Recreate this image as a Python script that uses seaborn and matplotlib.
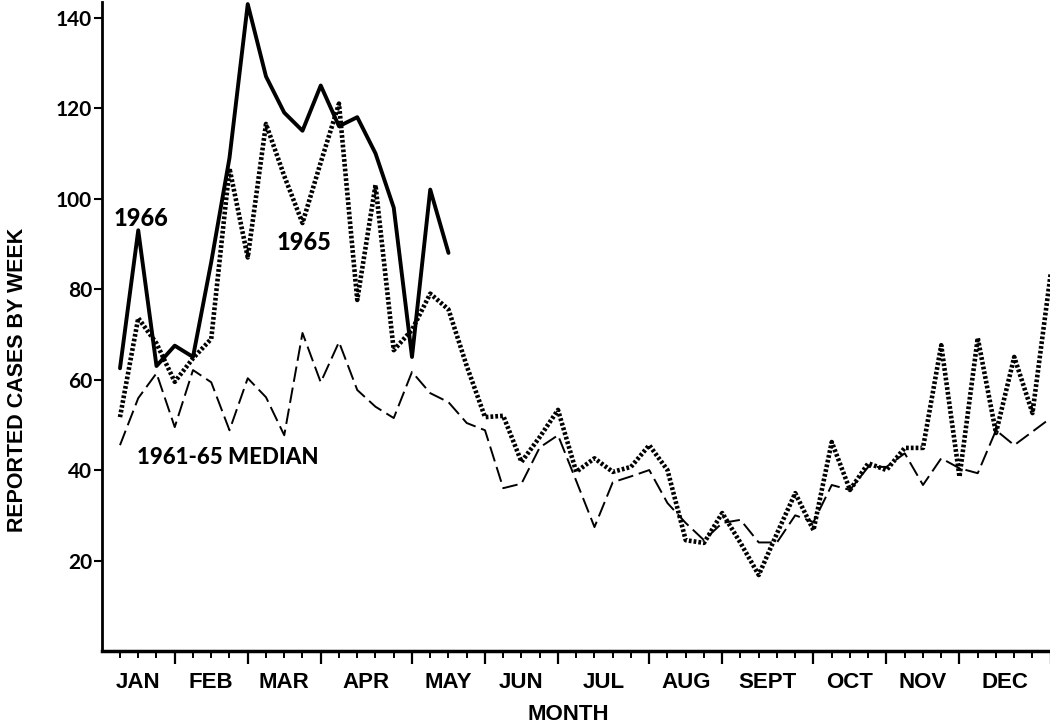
import pandas as pd
import seaborn as sns
import matplotlib.pyplot as plt

# weekly reported cases (week 1 = first week of January)
cases_1966 = [62.5, 93, 63, 67.5, 65, 86, 109, 143, 127, 119, 115, 125, 116, 118,
              110, 98, 65, 102, 88]

cases_1965 = [51.7, 73.6, 68, 59.5, 64.7, 69, 106.7, 87, 116.5, 105, 94.6, 108, 121,
              77.6, 103, 66.5, 71, 79, 75.5, 63, 51.7, 52, 41.8, 47.3, 53.3, 39.6,
              42.6, 39.6, 40.7, 45.5, 40, 24.5, 23.9, 30.5, 23.9, 16.8, 26, 34.9,
              26.7, 46.2, 35.6, 41.5, 40, 44.9, 44.9, 67.6, 38.5, 69.2, 48.2, 65,
              52.6, 83.5]

median_1961_65 = [45.5, 55.9, 61.4, 49.5, 62.1, 59.4, 48.8, 60.3, 56.1, 47.7, 70.3,
                  59.4, 68.3, 57.7, 54, 51.5, 61.7, 57, 55, 50.4, 48.8, 36, 37, 45,
                  47.7, 37.6, 27.4, 37.3, 38.6, 40, 32.7, 28.3, 24.5, 28.3, 29, 24,
                  24, 30, 28.5, 36.7, 35.6, 40.7, 40.7, 43.7, 36.7, 42.6, 40.4, 39.3,
                  48.8, 45.5, 48.5, 51.5]

months = ['JAN', 'FEB', 'MAR', 'APR', 'MAY', 'JUN', 'JUL', 'AUG', 'SEPT', 'OCT',
          'NOV', 'DEC']
month_ends = [4, 8, 12, 17, 21, 25, 30, 34, 39, 43, 47, 52]  # last week of each month

weeks = list(range(1, len(cases_1965) + 1))
df = pd.DataFrame({'week': weeks, 'y1965': cases_1965, 'median': median_1961_65})
df66 = pd.DataFrame({'week': list(range(1, len(cases_1966) + 1)), 'y1966': cases_1966})

sns.set_theme(style='ticks')
plt.rcParams['font.family'] = ['Liberation Sans Narrow', 'Liberation Sans', 'DejaVu Sans']
plt.rcParams['text.color'] = 'black'

fig = plt.figure(figsize=(10.5, 7.27), dpi=100)
ax = fig.add_axes([0.0969, 0.1045, 0.9038, 0.893])

sns.lineplot(data=df, x='week', y='median', ax=ax, color='black', lw=1.4,
             linestyle=(0, (8, 3)), clip_on=False)
sns.lineplot(data=df, x='week', y='y1965', ax=ax, color='black', lw=3.3,
             linestyle=(0, (0.6, 0.45)), clip_on=False)
sns.lineplot(data=df66, x='week', y='y1966', ax=ax, color='black', lw=2.8,
             clip_on=False)

ax.set_xlim(0, 52)
ax.set_ylim(0, 143.5)
sns.despine(ax=ax)
ax.spines['left'].set_linewidth(2)
ax.spines['bottom'].set_linewidth(2.5)
ax.spines['left'].set_color('black')
ax.spines['bottom'].set_color('black')

# week ticks, longer at month boundaries
ax.set_xticks(month_ends)
ax.set_xticklabels([])
ax.set_xticks(weeks, minor=True)
ax.tick_params(axis='x', which='major', length=9, width=1.6, color='black', direction='out')
ax.tick_params(axis='x', which='minor', length=5, width=1.4, color='black', direction='out')

ax.set_yticks([20, 40, 60, 80, 100, 120, 140])
ax.tick_params(axis='y', length=6, width=1.5, color='black', pad=1)
for lab in ax.get_yticklabels():
    lab.set_fontsize(15)
    lab.set_fontweight('bold')
    lab.set_family(['Lato', 'DejaVu Sans'])
    lab.set_color('black')
ax.set_xlabel('')
ax.set_ylabel('')

# month names centred between boundaries
starts = [0] + month_ends[:-1]
for name, a, b in zip(months, starts, month_ends):
    ax.text((a + b) / 2, -0.049, name, transform=ax.get_xaxis_transform(),
            ha='center', va='center', fontsize=16, fontweight='bold', color='black')

fig.text(0.541, 1 - 715 / 727, 'MONTH', ha='center', va='center', fontsize=16,
         fontweight='bold', color='black')
fig.text(0.017, 1 - 380 / 727, 'REPORTED CASES BY WEEK', rotation=90, ha='center',
         va='center', fontsize=15.5, fontweight='bold', color='black',
         family=['Liberation Sans', 'DejaVu Sans'])

# series labels
ax.text(2.15, 95.7, '1966', ha='center', va='center', fontsize=17, fontweight='black',
        color='black', family=['Lato', 'DejaVu Sans'])
ax.text(11.1, 90.4, '1965', ha='center', va='center', fontsize=17, fontweight='black',
        color='black', family=['Lato', 'DejaVu Sans'])
ax.text(6.9, 42.7, '1961-65 MEDIAN', ha='center', va='center', fontsize=16,
        fontweight='black', color='black', family=['Lato', 'DejaVu Sans'])

fig.savefig('out.png', dpi=100)
